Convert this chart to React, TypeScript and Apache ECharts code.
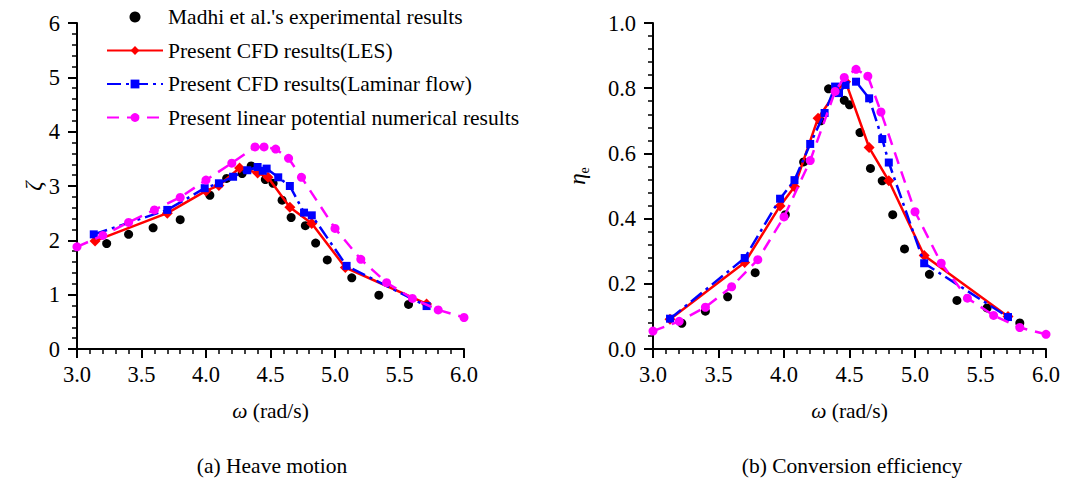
import React, { useEffect, useRef } from "react";
import * as echarts from "echarts";

// ---- (a) Heave motion: ζ versus ω ----
const expOmegaA = [3.23, 3.40, 3.59, 3.80, 4.03, 4.16, 4.28, 4.35, 4.46, 4.52, 4.59, 4.66, 4.77, 4.85, 4.94, 5.13, 5.34, 5.57];
const expZeta = [1.94, 2.11, 2.23, 2.38, 2.83, 3.14, 3.23, 3.37, 3.12, 3.05, 2.74, 2.42, 2.27, 1.95, 1.64, 1.31, 0.99, 0.82];

const lesOmegaA = [3.14, 3.70, 4.00, 4.10, 4.26, 4.40, 4.48, 4.65, 4.82, 5.08, 5.71];
const lesZeta = [1.99, 2.50, 2.91, 3.01, 3.33, 3.24, 3.16, 2.61, 2.31, 1.50, 0.83];

const lamOmegaA = [3.13, 3.70, 3.99, 4.10, 4.21, 4.32, 4.40, 4.44, 4.47, 4.56, 4.65, 4.76, 4.82, 5.09, 5.71];
const lamZeta = [2.11, 2.56, 2.96, 3.05, 3.17, 3.29, 3.35, 3.28, 3.32, 3.16, 3.00, 2.51, 2.46, 1.53, 0.79];

const potOmegaA = [3.0, 3.2, 3.4, 3.6, 3.8, 4.0, 4.2, 4.38, 4.45, 4.54, 4.64, 4.74, 5.0, 5.2, 5.4, 5.6, 5.8, 6.0];
const potZeta = [1.88, 2.09, 2.33, 2.56, 2.79, 3.11, 3.42, 3.72, 3.72, 3.68, 3.51, 3.16, 2.22, 1.65, 1.22, 0.93, 0.72, 0.58];

// ---- (b) Conversion efficiency: η_e versus ω ----
const expOmegaB = [3.22, 3.40, 3.57, 3.78, 4.01, 4.15, 4.28, 4.34, 4.46, 4.50, 4.58, 4.66, 4.75, 4.83, 4.92, 5.11, 5.32, 5.55, 5.80];
const expEta = [0.079, 0.116, 0.160, 0.234, 0.412, 0.574, 0.700, 0.798, 0.763, 0.749, 0.664, 0.554, 0.516, 0.412, 0.307, 0.229, 0.149, 0.126, 0.080];

const lesOmegaB = [3.13, 3.70, 3.97, 4.08, 4.26, 4.40, 4.47, 4.65, 4.80, 5.07, 5.71];
const lesEta = [0.091, 0.265, 0.439, 0.498, 0.708, 0.79, 0.82, 0.618, 0.516, 0.287, 0.100];

const lamOmegaB = [3.13, 3.70, 3.97, 4.08, 4.20, 4.31, 4.39, 4.42, 4.47, 4.55, 4.65, 4.75, 4.80, 5.07, 5.71];
const lamEta = [0.093, 0.279, 0.461, 0.518, 0.629, 0.724, 0.805, 0.785, 0.81, 0.82, 0.769, 0.644, 0.572, 0.263, 0.098];

const potOmegaB = [3.0, 3.2, 3.4, 3.6, 3.8, 4.0, 4.2, 4.39, 4.46, 4.55, 4.64, 4.74, 5.0, 5.2, 5.4, 5.6, 5.8, 6.0];
const potEta = [0.055, 0.085, 0.128, 0.191, 0.274, 0.405, 0.578, 0.79, 0.833, 0.858, 0.837, 0.727, 0.421, 0.263, 0.156, 0.103, 0.066, 0.045];

const seriesNames = [
  "Madhi et al.'s experimental results",
  "Present CFD results(LES)",
  "Present CFD results(Laminar flow)",
  "Present linear potential numerical results",
];
const captions = ["(a) Heave motion", "(b) Conversion efficiency"];

const FONT = "'Liberation Serif', 'Times New Roman', serif";
const FS = 21.5;
const TICK_FS = 22.5;

const pairs = (xs: number[], ys: number[]) => xs.map((x, i) => [x, ys[i]]);

function makeSeries(idx: number, exp: number[][], les: number[][], lam: number[][], pot: number[][]) {
  return [
    {
      name: seriesNames[0],
      type: "scatter",
      xAxisIndex: idx,
      yAxisIndex: idx,
      data: exp,
      symbol: "circle",
      symbolSize: 9,
      itemStyle: { color: "#000000", opacity: 1 },
      z: 2,
    },
    {
      name: seriesNames[1],
      type: "line",
      xAxisIndex: idx,
      yAxisIndex: idx,
      data: les,
      symbol: "diamond",
      symbolSize: 11,
      lineStyle: { color: "#ff0000", width: 2.5, type: "solid" },
      itemStyle: { color: "#ff0000" },
      z: 3,
    },
    {
      name: seriesNames[2],
      type: "line",
      xAxisIndex: idx,
      yAxisIndex: idx,
      data: lam,
      symbol: "rect",
      symbolSize: 8,
      lineStyle: { color: "#0000ff", width: 2.5, type: [14, 5, 3, 5] },
      itemStyle: { color: "#0000ff" },
      z: 4,
    },
    {
      name: seriesNames[3],
      type: "line",
      xAxisIndex: idx,
      yAxisIndex: idx,
      data: pot,
      symbol: "circle",
      symbolSize: 9,
      lineStyle: { color: "#ff00ff", width: 2.5, type: [12, 8] },
      itemStyle: { color: "#ff00ff" },
      z: 5,
    },
  ];
}

const axisCommon = {
  axisLine: { show: true, onZero: false, lineStyle: { color: "#000", width: 2 } },
  axisTick: { show: true, inside: false, length: 9, lineStyle: { color: "#000", width: 2 } },
  minorTick: { show: true, splitNumber: 5, length: 5, lineStyle: { color: "#000", width: 1.5 } },
  splitLine: { show: false },
  minorSplitLine: { show: false },
};

function xAxis(idx: number) {
  return {
    type: "value",
    gridIndex: idx,
    min: 3,
    max: 6,
    interval: 0.5,
    ...axisCommon,
    axisLabel: {
      color: "#000",
      fontFamily: FONT,
      fontSize: TICK_FS,
      margin: 14,
      formatter: (v: number) => v.toFixed(1),
    },
    name: "{i|ω} (rad/s)",
    nameLocation: "middle",
    nameGap: 51,
    nameTextStyle: {
      color: "#000",
      fontFamily: FONT,
      fontSize: FS,
      rich: { i: { fontStyle: "italic", fontFamily: FONT, fontSize: FS, color: "#000" } },
    },
  };
}

export default function App() {
  const ref = useRef<HTMLDivElement>(null);

  useEffect(() => {
    document.body.style.margin = "0";
    if (!ref.current) return;
    const chart = echarts.init(ref.current, null, { renderer: "svg" });

    const option = {
      animation: false,
      backgroundColor: "#ffffff",
      legend: {
        data: seriesNames,
        orient: "vertical",
        left: 106,
        top: 6,
        padding: 0,
        itemWidth: 56,
        itemHeight: 11,
        itemGap: 11.5,
        textStyle: { color: "#000", fontFamily: FONT, fontSize: FS },
      },
      grid: [
        { left: 77, top: 23, width: 387, height: 326 },
        { left: 653, top: 23, width: 393, height: 326 },
      ],
      xAxis: [xAxis(0), xAxis(1)],
      yAxis: [
        {
          type: "value",
          gridIndex: 0,
          min: 0,
          max: 6,
          interval: 1,
          ...axisCommon,
          axisLabel: { color: "#000", fontFamily: FONT, fontSize: TICK_FS, margin: 17 },
          name: "ζ",
          nameLocation: "middle",
          nameGap: 30,
          nameTextStyle: { color: "#000", fontFamily: FONT, fontSize: 23, fontStyle: "italic" },
        },
        {
          type: "value",
          gridIndex: 1,
          min: 0,
          max: 1,
          interval: 0.2,
          ...axisCommon,
          axisLabel: {
            color: "#000",
            fontFamily: FONT,
            fontSize: TICK_FS,
            margin: 17,
            formatter: (v: number) => v.toFixed(1),
          },
          name: "{a|η}{b|e}",
          nameLocation: "middle",
          nameGap: 62,
          nameTextStyle: {
            color: "#000",
            fontFamily: FONT,
            padding: [0, 0, 0, 20],
            rich: {
              a: { fontFamily: FONT, fontSize: 23, fontStyle: "italic", color: "#000", lineHeight: 28 },
              b: { fontFamily: FONT, fontSize: 14, color: "#000", lineHeight: 14, verticalAlign: "bottom" },
            },
          },
        },
      ],
      series: [
        ...makeSeries(0, pairs(expOmegaA, expZeta), pairs(lesOmegaA, lesZeta), pairs(lamOmegaA, lamZeta), pairs(potOmegaA, potZeta)),
        ...makeSeries(1, pairs(expOmegaB, expEta), pairs(lesOmegaB, lesEta), pairs(lamOmegaB, lamEta), pairs(potOmegaB, potEta)),
      ],
      graphic: [
        {
          type: "text",
          x: 272,
          y: 466,
          style: {
            text: captions[0],
            fontFamily: FONT,
            fontSize: FS,
            fill: "#000",
            textAlign: "center",
            textVerticalAlign: "middle",
          },
        },
        {
          type: "text",
          x: 852,
          y: 466,
          style: {
            text: captions[1],
            fontFamily: FONT,
            fontSize: FS,
            fill: "#000",
            textAlign: "center",
            textVerticalAlign: "middle",
          },
        },
      ],
    };

    chart.setOption(option as any);
    return () => chart.dispose();
  }, []);

  return <div ref={ref} style={{ width: 1069, height: 484 }} />;
}
